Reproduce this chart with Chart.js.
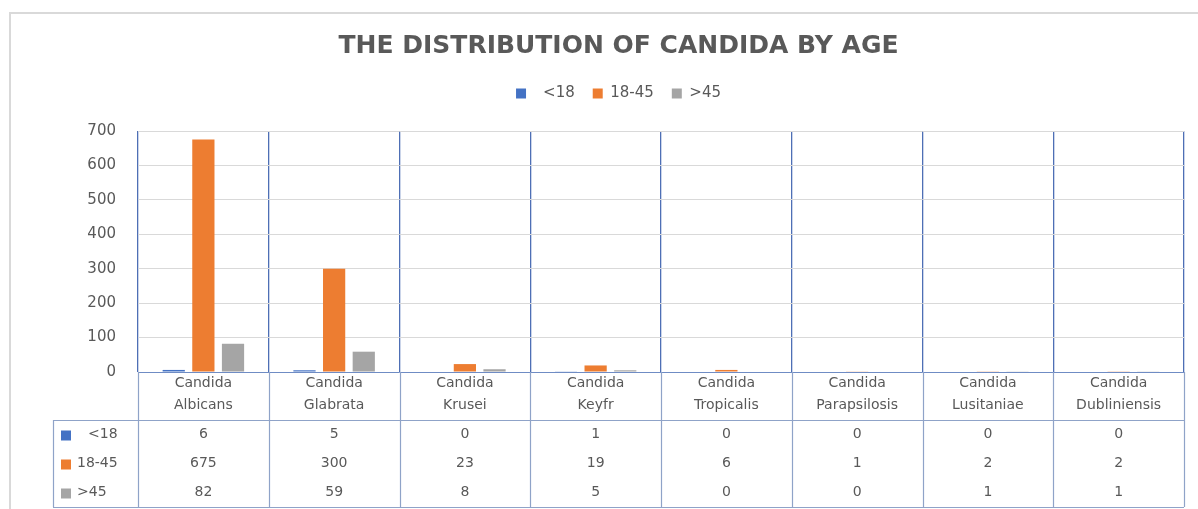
<!DOCTYPE html>
<html>
<head>
<meta charset="utf-8">
<script src="https://cdn.jsdelivr.net/npm/chart.js@4.4.0/dist/chart.umd.min.js"></script>
<style>
    html, body { margin: 0; padding: 0; background: #fff; }
    #wrap { width: 1198px; height: 509px; position: relative; }
</style>
</head>
<body>
<div id="wrap"><canvas id="chart"></canvas></div>
<script>
// Chart data
const categories = [
    ['Candida', 'Albicans'],
    ['Candida', 'Glabrata'],
    ['Candida', 'Krusei'],
    ['Candida', 'Keyfr'],
    ['Candida', 'Tropicalis'],
    ['Candida', 'Parapsilosis'],
    ['Candida', 'Lusitaniae'],
    ['Candida', 'Dubliniensis']
];
const seriesNames = ['  <18', '18-45', '>45'];
const under18 = [6, 5, 0, 1, 0, 0, 0, 0];
const age18to45 = [675, 300, 23, 19, 6, 1, 2, 2];
const over45 = [82, 59, 8, 5, 0, 0, 1, 1];
const yMax = 700;
const yStep = 100;

const colors = ['#4472C4', '#ED7D31', '#A5A5A5'];
const textColor = '#595959';
const tableLine = '#8fa3c8';
const plotLine = '#4e6fb5';

Chart.defaults.font.family = "'DejaVu Sans', sans-serif";
Chart.defaults.color = textColor;

// extra room under the legend
const legendSpace = {
    id: 'legendSpace',
    beforeInit(chart) {
        const fit = chart.legend.fit;
        chart.legend.fit = function () {
            fit.bind(chart.legend)();
            this.height += 20;
        };
    }
};

// Frame + data table under the axis
const tablePlugin = {
    id: 'dataTable',
    beforeDraw(chart) {
        const ctx = chart.ctx;
        ctx.save();
        ctx.strokeStyle = '#d9d9d9';
        ctx.lineWidth = 2;
        ctx.beginPath();
        ctx.moveTo(10, 509);
        ctx.lineTo(10, 13);
        ctx.lineTo(1198, 13);
        ctx.stroke();
        ctx.restore();
    },
    afterDraw(chart) {
        const ctx = chart.ctx;
        const x = chart.scales.x;
        const area = chart.chartArea;
        const n = categories.length;
        const colW = (area.right - area.left) / n;
        const tableLeft = area.left - 85;
        const headTop = area.bottom;
        const headBottom = area.bottom + 48;
        const tableBottom = 507;
        const rowH = (tableBottom - headBottom) / 3;
        const series = [under18, age18to45, over45];

        ctx.save();
        ctx.strokeStyle = tableLine;
        ctx.lineWidth = 1.2;
        ctx.beginPath();
        // vertical column lines through header and table
        for (let i = 0; i <= n; i++) {
            const px = Math.round(area.left + i * colW) + 0.5;
            ctx.moveTo(px, headTop);
            ctx.lineTo(px, tableBottom);
        }
        ctx.moveTo(tableLeft + 0.5, headBottom);
        ctx.lineTo(tableLeft + 0.5, tableBottom);
        ctx.moveTo(tableLeft, headBottom + 0.5);
        ctx.lineTo(area.right, headBottom + 0.5);
        ctx.moveTo(tableLeft, tableBottom + 0.5);
        ctx.lineTo(area.right, tableBottom + 0.5);
        ctx.stroke();

        ctx.font = "14px 'DejaVu Sans', sans-serif";
        ctx.textBaseline = 'middle';
        for (let r = 0; r < 3; r++) {
            const cy = headBottom + rowH * (r + 0.5);
            ctx.fillStyle = colors[r];
            ctx.fillRect(tableLeft + 8, cy - 4, 10, 10);
            ctx.fillStyle = textColor;
            ctx.textAlign = 'left';
            ctx.fillText(seriesNames[r].trim(), tableLeft + (r === 0 ? 35 : 24), cy);
            ctx.textAlign = 'center';
            for (let i = 0; i < n; i++) {
                ctx.fillText(String(series[r][i]), x.getPixelForValue(i), cy);
            }
        }
        ctx.restore();
    }
};

new Chart(document.getElementById('chart'), {
    type: 'bar',
    data: {
        labels: categories,
        datasets: [
            { label: seriesNames[0], data: under18, backgroundColor: colors[0] },
            { label: seriesNames[1], data: age18to45, backgroundColor: colors[1] },
            { label: seriesNames[2], data: over45, backgroundColor: colors[2] }
        ]
    },
    options: {
        responsive: true,
        maintainAspectRatio: false,
        animation: false,
        layout: { padding: { left: 53, right: 14, top: 0, bottom: 89 } },
        datasets: { bar: { barPercentage: 0.75, categoryPercentage: 0.68 } },
        plugins: {
            title: {
                display: true,
                text: 'THE DISTRIBUTION OF CANDIDA BY AGE',
                color: textColor,
                font: { size: 25, weight: 'bold' },
                padding: { top: 31, bottom: 7 }
            },
            legend: {
                labels: { boxWidth: 10, boxHeight: 10, font: { size: 15 }, color: textColor, padding: 18 }
            },
            tooltip: { enabled: false }
        },
        scales: {
            x: {
                grid: { offset: true, color: plotLine, lineWidth: 1.3, drawTicks: false },
                border: { color: '#6f8cc4' },
                ticks: { color: textColor, font: { size: 14, lineHeight: 1.55 }, padding: 1, maxRotation: 0, autoSkip: false },
                afterFit(scale) { scale.height = 48; }
            },
            y: {
                min: 0,
                max: yMax,
                grid: { color: '#d9d9d9', drawTicks: false },
                border: { display: false },
                ticks: { stepSize: yStep, color: textColor, font: { size: 15 }, padding: 22 },
                afterFit(scale) { scale.width = 85; }
            }
        }
    },
    plugins: [tablePlugin, legendSpace]
});
</script>
</body>
</html>
